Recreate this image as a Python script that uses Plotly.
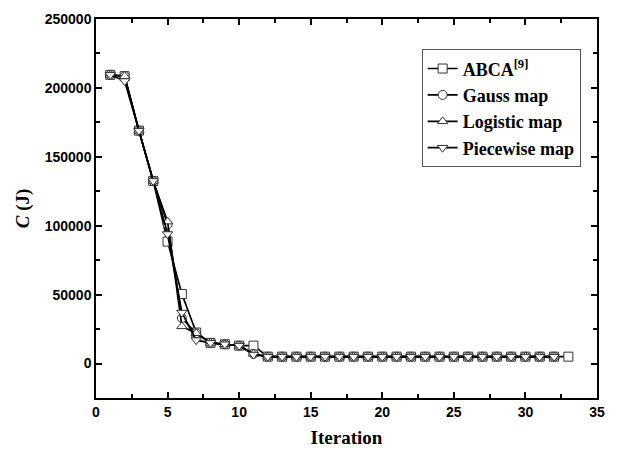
import plotly.graph_objects as go

iter_abca = list(range(1, 34))
iter_maps = list(range(1, 33))

abca = [209500, 208500, 169000, 132500, 88500, 50500, 22500, 15000, 14000, 13000, 13000] + [5000] * 22
gauss = [209500, 208500, 169000, 132500, 101000, 33000, 22000, 15000, 14000, 13000, 7000] + [5000] * 21
logistic = [209500, 208500, 169000, 132500, 103000, 27000, 22000, 15000, 14000, 13000, 7000] + [5000] * 21
piecewise = [209500, 205000, 169000, 132500, 94000, 37000, 17000, 15000, 14000, 13000, 6500] + [5000] * 21

names = ["ABCA<sup>[9]</sup>", "Gauss map", "Logistic map", "Piecewise map"]
symbols = ["square", "circle", "triangle-up", "triangle-down"]

fig = go.Figure()
series = [(iter_abca, abca), (iter_maps, gauss), (iter_maps, logistic), (iter_maps, piecewise)]
for (xs, ys), nm, sym in zip(series, names, symbols):
    fig.add_trace(go.Scatter(
        x=xs, y=ys, mode="lines+markers", name=nm,
        line=dict(color="black", width=1.7),
        marker=dict(symbol=sym, size=9, color="white", line=dict(width=1, color="#333")),
    ))

axis_common = dict(
    showline=True, linecolor="black", linewidth=1.5, mirror="ticks",
    ticks="inside", ticklen=6, tickwidth=1.5, tickcolor="black",
    showgrid=False, zeroline=False, automargin=False,
    tickformat="d",
    tickfont=dict(family="Liberation Sans, Arial", size=14, color="black", weight="bold"),
)

# page body has an 8px margin, so the figure is sized/offset to compensate
fig.update_layout(
    width=611, height=444,
    margin=dict(l=88, r=22, t=11, b=54),
    paper_bgcolor="white", plot_bgcolor="white",
    showlegend=True,
    legend=dict(
        x=0.65, y=0.92, xanchor="left", yanchor="top",
        bordercolor="#555", borderwidth=1, bgcolor="white",
        font=dict(family="Liberation Serif, Times New Roman", size=18, color="black", weight="bold"),
        tracegroupgap=0, itemwidth=30,
    ),
    xaxis=dict(
        range=[0, 35], dtick=5, tick0=0,
        minor=dict(dtick=2.5, ticks="inside", ticklen=4, tickwidth=1.5, tickcolor="black"),
        title=dict(text="Iteration", standoff=12,
                   font=dict(family="Liberation Serif, Times New Roman", size=19, color="black", weight="bold")),
        **axis_common,
    ),
    yaxis=dict(
        range=[-25000, 250000], dtick=50000, tick0=0,
        minor=dict(dtick=25000, ticks="inside", ticklen=4, tickwidth=1.5, tickcolor="black"),
        title=dict(text="<i>C</i> (J)", standoff=10,
                   font=dict(family="Liberation Serif, Times New Roman", size=19, color="black", weight="bold")),
        **axis_common,
    ),
)

fig.write_html("out.html")
